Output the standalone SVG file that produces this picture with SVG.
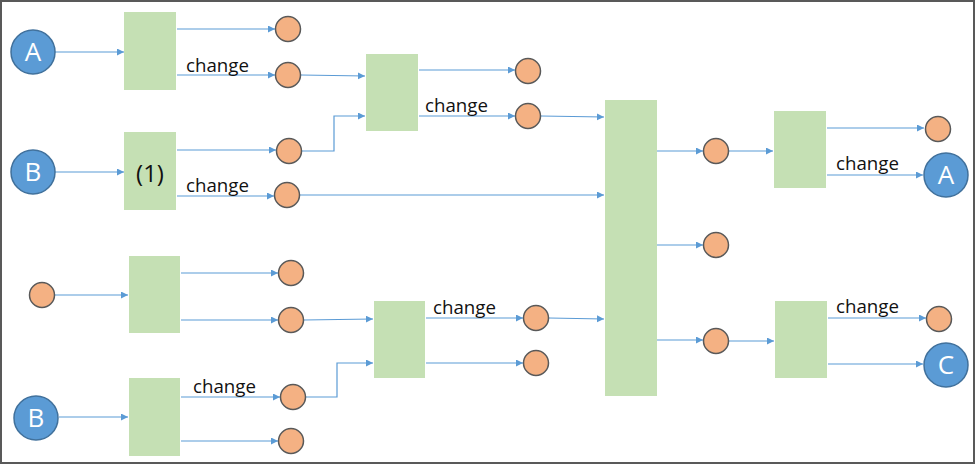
<svg xmlns="http://www.w3.org/2000/svg" width="977" height="466" viewBox="0 0 977 466">
<style>
.box{fill:#C5E0B4;}
.oc{fill:#F4B183;stroke:#595959;stroke-width:1.5;}
.bc{fill:#5B9BD5;stroke:#41719C;stroke-width:1.5;}
.bl{fill:#fff;font-family:"Open Sans","Liberation Sans",sans-serif;font-size:26px;text-anchor:middle;}
.lbl{fill:#111;font-family:"Open Sans","Liberation Sans",sans-serif;font-size:18.7px;}
.c path{fill:none;stroke:#5B9BD5;stroke-width:1.2;marker-end:url(#ah);}
</style>
<defs>
<marker id="ah" markerUnits="userSpaceOnUse" markerWidth="8" markerHeight="8" refX="7" refY="3.5" orient="auto">
<path d="M0,0 L7,3.5 L0,7 Z" fill="#5B9BD5"/>
</marker>
</defs>
<rect x="0" y="0" width="977" height="466" fill="#fff"/>
<rect x="1" y="1" width="973" height="462" fill="none" stroke="#595959" stroke-width="2"/>

<g id="connectors" class="c">
<path d="M55,52 H124"/>
<path d="M177,29 H275"/>
<path d="M177,75 H275"/>
<path d="M301,75 L365,76"/>
<path d="M55,172 H124"/>
<path d="M177,150 H276"/>
<path d="M177,196 H274"/>
<path d="M302,151 H334 V116 H365"/>
<path d="M300,195 H604"/>
<path d="M419,70 H515"/>
<path d="M419,116 H515"/>
<path d="M541,116 L604,117"/>
<path d="M657,151 H703"/>
<path d="M657,245 H703"/>
<path d="M657,340 H703"/>
<path d="M729,151 H773"/>
<path d="M827,128 H924"/>
<path d="M827,175 H923"/>
<path d="M729,341 H774"/>
<path d="M828,318 H926"/>
<path d="M828,364 H923"/>
<path d="M55,295 H128"/>
<path d="M181,273 H278"/>
<path d="M181,320 H278"/>
<path d="M304,320 L373,319"/>
<path d="M59,417 H128"/>
<path d="M181,397 H280"/>
<path d="M181,441 H278"/>
<path d="M306,397 H337 V363 H373"/>
<path d="M426,318 H523"/>
<path d="M426,363 H523"/>
<path d="M549,318 L604,319"/>
</g>

<g id="box1"><rect class="box" x="124" y="12" width="52" height="78"/></g>
<g id="box2"><rect class="box" x="124" y="132" width="52" height="78"/><text x="150" y="182" font-family="Open Sans, Liberation Sans, sans-serif" font-size="24" text-anchor="middle" fill="#111">(1)</text></g>
<g id="box3"><rect class="box" x="366" y="54" width="52" height="77"/></g>
<g id="box4"><rect class="box" x="605" y="100" width="52" height="296"/></g>
<g id="box5"><rect class="box" x="774" y="111" width="52" height="77"/></g>
<g id="box6"><rect class="box" x="775" y="301" width="52" height="77"/></g>
<g id="box7"><rect class="box" x="129" y="256" width="51" height="77"/></g>
<g id="box8"><rect class="box" x="374" y="301" width="51" height="77"/></g>
<g id="box9"><rect class="box" x="129" y="378" width="51" height="78"/></g>

<g id="labels">
<text class="lbl" x="186" y="72">change</text>
<text class="lbl" x="186" y="192">change</text>
<text class="lbl" x="425" y="112">change</text>
<text class="lbl" x="836" y="170">change</text>
<text class="lbl" x="836" y="313">change</text>
<text class="lbl" x="433" y="314">change</text>
<text class="lbl" x="193" y="393">change</text>
</g>

<g id="inA"><circle class="bc" cx="33" cy="52" r="22"/><text class="bl" x="33" y="61">A</text></g>
<g id="inB1"><circle class="bc" cx="33" cy="172" r="22"/><text class="bl" x="33" y="181">B</text></g>
<g id="inB2"><circle class="bc" cx="36" cy="418" r="22"/><text class="bl" x="36" y="427">B</text></g>
<g id="outA"><circle class="bc" cx="946" cy="175" r="22"/><text class="bl" x="946" y="184">A</text></g>
<g id="outC"><circle class="bc" cx="946" cy="365" r="22"/><text class="bl" x="946" y="374">C</text></g>

<g id="o1"><circle class="oc" cx="288" cy="29" r="12.5"/></g>
<g id="o2"><circle class="oc" cx="288" cy="75" r="12.5"/></g>
<g id="o3"><circle class="oc" cx="289" cy="151" r="12.5"/></g>
<g id="o4"><circle class="oc" cx="287" cy="195" r="12.5"/></g>
<g id="o5"><circle class="oc" cx="528" cy="71" r="12.5"/></g>
<g id="o6"><circle class="oc" cx="528" cy="116" r="12.5"/></g>
<g id="o7"><circle class="oc" cx="716" cy="151" r="12.5"/></g>
<g id="o8"><circle class="oc" cx="716" cy="245" r="12.5"/></g>
<g id="o9"><circle class="oc" cx="716" cy="341" r="12.5"/></g>
<g id="o10"><circle class="oc" cx="938" cy="129" r="12.5"/></g>
<g id="o11"><circle class="oc" cx="939" cy="319" r="12.5"/></g>
<g id="o12"><circle class="oc" cx="42" cy="295" r="12.5"/></g>
<g id="o13"><circle class="oc" cx="291" cy="273" r="12.5"/></g>
<g id="o14"><circle class="oc" cx="291" cy="320" r="12.5"/></g>
<g id="o15"><circle class="oc" cx="293" cy="397" r="12.5"/></g>
<g id="o16"><circle class="oc" cx="291" cy="441" r="12.5"/></g>
<g id="o17"><circle class="oc" cx="536" cy="318" r="12.5"/></g>
<g id="o18"><circle class="oc" cx="536" cy="363" r="12.5"/></g>
</svg>
